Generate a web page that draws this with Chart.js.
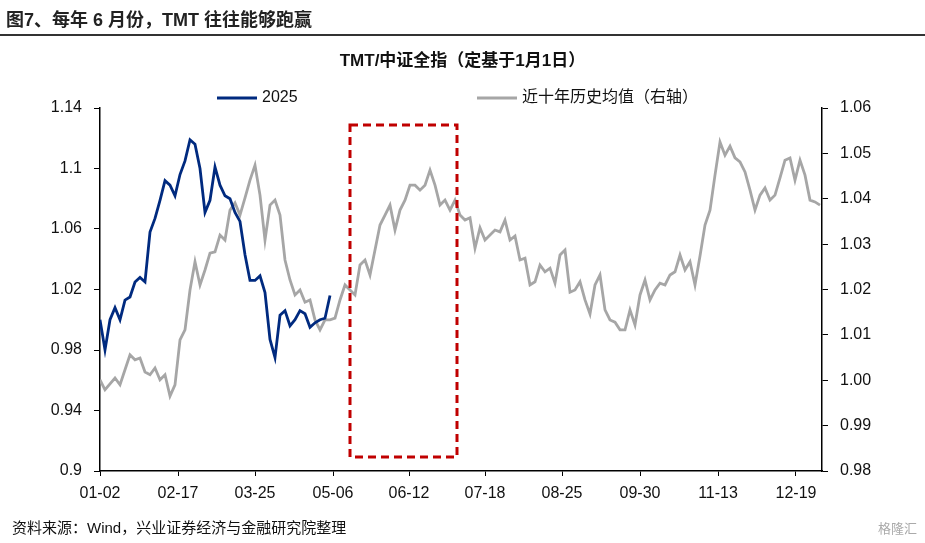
<!DOCTYPE html>
<html><head><meta charset="utf-8">
<script src="https://cdn.jsdelivr.net/npm/chart.js@4"></script>
<style>
body{margin:0;width:925px;height:543px;position:relative;background:#fff;font-family:"Liberation Sans","Noto Sans CJK SC",sans-serif;overflow:hidden}
#head{position:absolute;left:6px;top:5px;font-size:18px;font-weight:bold;color:#222}
#rule{position:absolute;left:0;top:34px;width:925px;height:2px;background:#333}
#title{position:absolute;left:0;width:925px;top:46px;text-align:center;font-size:17px;font-weight:bold;color:#111}
#src{position:absolute;left:12px;top:516px;font-size:15px;color:#111}
#wm{position:absolute;right:8px;top:518px;font-size:13px;color:#aaa}
canvas{position:absolute;left:0;top:0}
</style></head><body>
<canvas id="c" width="925" height="543"></canvas>
<div id="head">图7、每年 6 月份，TMT 往往能够跑赢</div>
<div id="rule"></div>
<div id="title">TMT/中证全指（定基于1月1日）</div>
<div id="src">资料来源：Wind，兴业证券经济与金融研究院整理</div>
<div id="wm">格隆汇</div>
<script>
const tickPos = [0, 15.6, 31, 46.6, 61.8, 77, 92.4, 108, 123.6, 139.2];
const tickLabels = ['01-02','02-17','03-25','05-06','06-12','07-18','08-25','09-30','11-13','12-19'];

const series2025 = [1.000,0.980,1.000,1.008,1.000,1.013,1.015,1.025,1.028,1.025,1.058,1.067,1.079,1.092,1.089,1.082,
  1.096,1.105,1.119,1.116,1.100,1.071,1.079,1.101,1.089,1.082,1.080,1.071,1.065,1.043,1.026,1.026,1.029,1.018,
  0.987,0.975,1.003,1.006,0.996,1.000,1.006,1.004,0.995,0.998,1.000,1.001,1.016];

const seriesAvg = [1.0001,0.9979,0.9992,1.0005,0.9990,1.0023,1.0056,1.0045,1.0049,1.0018,1.0012,1.0027,1.0001,1.0012,
  0.9965,0.9990,1.0089,1.0111,1.0199,1.0261,1.0210,1.0243,1.0280,1.0283,1.0320,1.0309,1.0375,1.0391,1.0364,1.0402,
  1.0441,1.0474,1.0408,1.0309,1.0386,1.0397,1.0364,1.0265,1.0221,1.0188,1.0199,1.0172,1.0177,1.0133,1.0111,1.0133,
  1.0133,1.0137,1.0177,1.0210,1.0199,1.0188,1.0254,1.0265,1.0232,1.0287,1.0342,1.0364,1.0386,1.0331,1.0375,1.0397,
  1.0430,1.0430,1.0419,1.0430,1.0463,1.0430,1.0386,1.0397,1.0375,1.0397,1.0364,1.0353,1.0358,1.0291,1.0336,1.0309,
  1.0320,1.0331,1.0327,1.0353,1.0309,1.0318,1.0265,1.0269,1.0210,1.0217,1.0254,1.0239,1.0247,1.0214,1.0276,1.0287,
  1.0194,1.0199,1.0217,1.0177,1.0146,1.0210,1.0232,1.0155,1.0133,1.0128,1.0111,1.0111,1.0155,1.0122,1.0188,1.0221,
  1.0177,1.0199,1.0214,1.0210,1.0232,1.0239,1.0276,1.0243,1.0261,1.0210,1.0274,1.0342,1.0375,1.0452,1.0525,1.0496,
  1.0516,1.0490,1.0481,1.0459,1.0419,1.0375,1.0408,1.0424,1.0397,1.0408,1.0446,1.0485,1.0490,1.0441,1.0485,1.0452,
  1.0397,1.0393,1.0386];

// June window box: x range (day index) and left-axis value range
const boxX = [50, 71.4];
const boxY = [0.9093, 1.1288];

const toXY = arr => arr.map((v, i) => ({ x: i, y: v }));

const extras = {
    id: 'extras',
    afterDatasetsDraw(chart) {
        const { ctx, scales: { x, y } } = chart;
        const x0 = x.getPixelForValue(boxX[0]), x1 = x.getPixelForValue(boxX[1]);
        const y0 = y.getPixelForValue(boxY[1]), y1 = y.getPixelForValue(boxY[0]);
        ctx.save();
        ctx.strokeStyle = '#c00000';
        ctx.lineWidth = 3;
        ctx.setLineDash([8, 5]);
        ctx.strokeRect(x0, y0, x1 - x0, y1 - y0);
        ctx.setLineDash([]);
        // legend
        ctx.font = '16px "Liberation Sans", "Noto Sans CJK SC"';
        ctx.fillStyle = '#111';
        ctx.textBaseline = 'middle';
        ctx.lineWidth = 3;
        ctx.strokeStyle = '#002a7f';
        ctx.beginPath(); ctx.moveTo(217, 98); ctx.lineTo(257, 98); ctx.stroke();
        ctx.fillText('2025', 262, 98);
        ctx.strokeStyle = '#a6a6a6';
        ctx.beginPath(); ctx.moveTo(477, 98); ctx.lineTo(517, 98); ctx.stroke();
        ctx.fillText('近十年历史均值（右轴）', 522, 98);
        ctx.restore();
    }
};

const font = { family: '"Liberation Sans", Arial', size: 16 };

new Chart(document.getElementById('c'), {
    type: 'line',
    data: {
        datasets: [
            { label: '2025', data: toXY(series2025), yAxisID: 'y', borderColor: '#002a7f', borderWidth: 2.8, pointRadius: 0, tension: 0 },
            { label: '近十年历史均值（右轴）', data: toXY(seriesAvg), yAxisID: 'y1', borderColor: '#a6a6a6', borderWidth: 2.8, pointRadius: 0, tension: 0 },
        ],
    },
    options: {
        responsive: false,
        animation: false,
        layout: { padding: { top: 108, left: 0, right: 0, bottom: 0 } },
        plugins: { legend: { display: false }, tooltip: { enabled: false } },
        scales: {
            x: {
                type: 'linear', min: 0, max: 144.4,
                afterBuildTicks: s => { s.ticks = tickPos.map(v => ({ value: v })); },
                afterFit: s => { s.height = 72; },
                ticks: { font, color: '#111', padding: 8, autoSkip: false, maxRotation: 0,
                    callback: (v) => { const i = tickPos.indexOf(v); return i >= 0 ? tickLabels[i] : ''; } },
                grid: { display: true, drawOnChartArea: false, tickLength: 5, color: '#000' },
                border: { color: '#000', width: 1.5 },
            },
            y: {
                position: 'left', min: 0.9, max: 1.14,
                afterBuildTicks: s => { s.ticks = [0.9,0.94,0.98,1.02,1.06,1.1,1.14].map(v => ({ value: v })); },
                afterFit: s => { s.width = 100; },
                ticks: { font, color: '#111', padding: 12, callback: v => String(+v.toFixed(2)) },
                grid: { display: true, drawOnChartArea: false, tickLength: 6, color: '#000' },
                border: { color: '#000', width: 1.5 },
            },
            y1: {
                position: 'right', min: 0.98, max: 1.06,
                afterBuildTicks: s => { s.ticks = [0.98,0.99,1.0,1.01,1.02,1.03,1.04,1.05,1.06].map(v => ({ value: v })); },
                afterFit: s => { s.width = 103; },
                ticks: { font, color: '#111', padding: 12, callback: v => v.toFixed(2) },
                grid: { display: true, drawOnChartArea: false, tickLength: 6, color: '#000' },
                border: { color: '#000', width: 1.5 },
            },
        },
    },
    plugins: [extras],
});
</script>
</body></html>
